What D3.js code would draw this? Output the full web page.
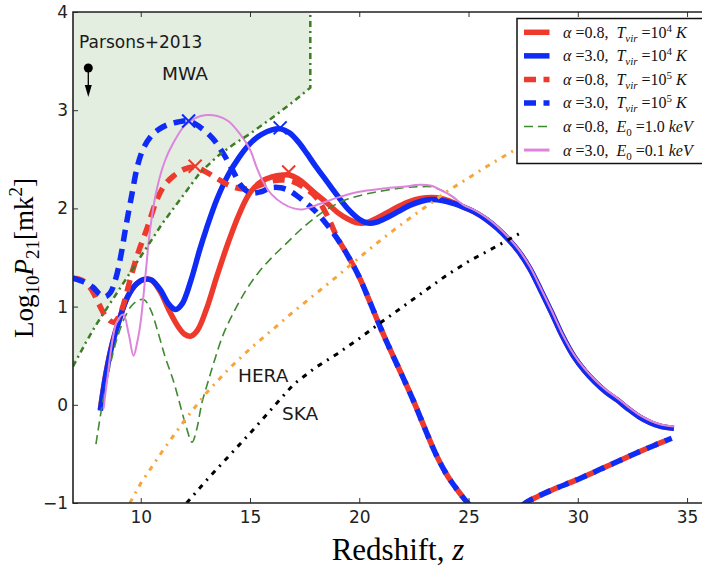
<!DOCTYPE html>
<html><head><meta charset="utf-8">
<script src="https://cdn.jsdelivr.net/npm/d3@7"></script>
<style>body{margin:0;background:#fff}svg{display:block}</style>
</head><body><svg id="c" width="702" height="568"></svg>
<script>
// ---------- DATA (z, log10 P21) ----------
const xTicks = [10, 15, 20, 25, 30, 35];
const yTicks = [-1, 0, 1, 2, 3, 4];

const redSolid = [[8.15,-0.05],[8.4,0.31],[8.7,0.63],[9.0,0.86],[9.4,1.1],[9.8,1.23],[10.2,1.28],[10.5,1.27],[10.9,1.15],[11.3,0.96],[11.7,0.8],[12.0,0.72],[12.3,0.7],[12.6,0.76],[13.0,0.97],[13.5,1.32],[14.0,1.65],[14.5,1.94],[15.0,2.16],[15.5,2.27],[16.0,2.32],[16.5,2.34],[16.8,2.34],[17.2,2.3],[17.6,2.23],[18.0,2.15],[18.5,2.06],[19.0,1.96],[19.5,1.89],[20.0,1.85],[20.4,1.86],[20.8,1.9],[21.3,1.96],[21.8,2.02],[22.3,2.07],[22.8,2.1],[23.3,2.11],[23.8,2.1],[24.3,2.06],[24.8,2.01],[25.3,1.96],[25.8,1.89],[26.3,1.8],[26.8,1.69],[27.3,1.56],[27.8,1.39],[28.3,1.17],[28.8,0.94],[29.3,0.7],[29.8,0.5],[30.3,0.35],[30.8,0.23],[31.3,0.13],[31.8,0.05],[32.3,-0.04],[32.8,-0.12],[33.3,-0.18],[33.8,-0.22],[34.4,-0.24]];

const blueSolid = [[8.15,-0.06],[8.4,0.3],[8.7,0.62],[9.0,0.85],[9.4,1.1],[9.8,1.23],[10.2,1.28],[10.5,1.27],[10.9,1.17],[11.3,1.02],[11.6,0.97],[11.9,1.03],[12.3,1.27],[12.7,1.58],[13.0,1.79],[13.5,2.1],[14.0,2.34],[14.5,2.52],[15.0,2.66],[15.5,2.75],[16.0,2.8],[16.4,2.81],[16.8,2.77],[17.2,2.68],[17.6,2.56],[18.0,2.43],[18.5,2.28],[19.0,2.13],[19.5,1.99],[20.0,1.89],[20.4,1.85],[20.8,1.86],[21.3,1.91],[21.8,1.97],[22.3,2.03],[22.8,2.07],[23.3,2.09],[23.8,2.08],[24.3,2.05],[24.8,2.01],[25.3,1.96],[25.8,1.89],[26.3,1.8],[26.8,1.69],[27.3,1.56],[27.8,1.39],[28.3,1.17],[28.8,0.94],[29.3,0.7],[29.8,0.5],[30.3,0.35],[30.8,0.23],[31.3,0.13],[31.8,0.05],[32.3,-0.04],[32.8,-0.12],[33.3,-0.18],[33.8,-0.22],[34.4,-0.24]];

const redDashed = [[6.9,1.29],[7.3,1.27],[7.7,1.19],[8.1,1.02],[8.4,0.9],[8.75,0.84],[9.0,0.9],[9.25,1.05],[9.52,1.28],[9.9,1.56],[10.28,1.79],[10.74,2.09],[11.1,2.24],[11.5,2.33],[12.0,2.4],[12.5,2.42],[13.0,2.37],[13.6,2.29],[14.1,2.23],[14.6,2.2],[15.0,2.2],[15.5,2.24],[16.0,2.28],[16.5,2.29],[17.0,2.27],[17.5,2.21],[18.0,2.12],[18.5,1.94],[19.0,1.7],[19.5,1.51],[20.0,1.3],[20.5,1.04],[21.0,0.77],[21.5,0.52],[22.0,0.28],[22.5,0.03],[23.0,-0.24],[23.5,-0.5],[24.0,-0.71],[24.5,-0.87],[25.0,-1.01],[25.6,-1.15],[26.3,-1.2],[27.0,-1.12],[27.6,-1.0],[28.2,-0.93],[29.0,-0.85],[30.0,-0.76],[31.0,-0.66],[32.0,-0.56],[33.0,-0.46],[34.3,-0.34]];

const blueDashed = [[6.9,1.29],[7.4,1.25],[7.8,1.2],[8.1,1.13],[8.35,1.1],[8.6,1.14],[8.85,1.28],[9.1,1.53],[9.3,1.79],[9.6,2.15],[9.85,2.43],[10.1,2.6],[10.45,2.73],[10.8,2.8],[11.2,2.85],[11.7,2.88],[12.2,2.89],[12.7,2.83],[13.3,2.71],[13.8,2.55],[14.25,2.37],[14.6,2.23],[15.0,2.16],[15.5,2.17],[15.95,2.21],[16.4,2.21],[16.8,2.18],[17.2,2.12],[17.6,2.05],[18.0,1.97],[18.5,1.84],[19.0,1.69],[19.5,1.51],[20.0,1.3],[20.5,1.04],[21.0,0.77],[21.5,0.52],[22.0,0.28],[22.5,0.03],[23.0,-0.24],[23.5,-0.5],[24.0,-0.71],[24.5,-0.87],[25.0,-1.01],[25.6,-1.15],[26.3,-1.2],[27.0,-1.12],[27.6,-1.0],[28.2,-0.93],[29.0,-0.85],[30.0,-0.76],[31.0,-0.66],[32.0,-0.56],[33.0,-0.46],[34.3,-0.34]];

const greenDashed = [[7.95,-0.4],[8.2,-0.05],[8.45,0.25],[8.7,0.5],[8.95,0.7],[9.25,0.88],[9.55,1.0],[9.85,1.06],[10.15,1.07],[10.45,0.97],[10.75,0.77],[11.1,0.5],[11.5,0.24],[11.8,0.0],[12.05,-0.2],[12.35,-0.38],[12.55,-0.26],[12.8,0.02],[13.1,0.25],[13.4,0.47],[13.8,0.73],[14.25,0.94],[14.8,1.16],[15.4,1.35],[16.0,1.5],[16.6,1.63],[17.3,1.78],[18.0,1.91],[18.6,2.0],[19.3,2.08],[20.2,2.14],[21.1,2.18],[22.0,2.21],[22.7,2.22],[23.3,2.22],[23.7,2.19],[24.2,2.13],[24.8,2.03],[25.3,1.98],[25.8,1.91],[26.3,1.82],[26.8,1.71],[27.3,1.58],[27.8,1.41],[28.3,1.19],[28.8,0.96],[29.3,0.72],[29.8,0.52],[30.3,0.37],[30.8,0.25],[31.3,0.15],[31.8,0.07],[32.3,-0.02],[32.8,-0.1],[33.3,-0.16],[33.8,-0.2],[34.4,-0.22]];

const pinkSolid = [[8.3,-0.04],[8.5,0.32],[8.7,0.65],[8.9,0.84],[9.2,0.92],[9.45,0.72],[9.67,0.5],[9.85,0.65],[10.0,0.85],[10.2,1.28],[10.43,1.79],[10.74,2.2],[11.1,2.48],[11.5,2.67],[12.0,2.84],[12.5,2.92],[13.0,2.95],[13.5,2.94],[14.0,2.89],[14.5,2.77],[15.0,2.6],[15.3,2.42],[15.6,2.27],[16.0,2.14],[16.5,2.05],[17.0,2.0],[17.4,1.99],[18.0,2.03],[19.0,2.11],[20.0,2.17],[21.0,2.2],[22.0,2.22],[22.8,2.24],[23.3,2.23],[23.7,2.19],[24.2,2.13],[24.8,2.03],[25.3,1.98],[25.8,1.91],[26.3,1.82],[26.8,1.71],[27.3,1.58],[27.8,1.41],[28.3,1.19],[28.8,0.96],[29.3,0.72],[29.8,0.52],[30.3,0.37],[30.8,0.25],[31.3,0.15],[31.8,0.07],[32.3,-0.02],[32.8,-0.1],[33.3,-0.16],[33.8,-0.2],[34.4,-0.22]];

const mwaLimit = [[6.9,0.39],[7.5,0.64],[8.0,0.83],[8.5,1.0],[9.0,1.17],[9.5,1.34],[10.0,1.51],[10.5,1.68],[11.0,1.85],[11.5,2.0],[12.0,2.15],[12.7,2.36],[13.5,2.53],[14.3,2.66],[15.0,2.76],[16.0,2.92],[17.0,3.09],[17.76,3.23],[17.76,4.0]];
const heraSens = [[9.5,-1.0],[10.0,-0.8],[11.0,-0.47],[12.0,-0.16],[13.0,0.12],[14.0,0.36],[15.0,0.57],[16.0,0.76],[17.0,0.95],[18.0,1.13],[19.0,1.31],[20.0,1.5],[21.0,1.68],[22.0,1.85],[23.0,2.01],[24.0,2.17],[25.0,2.31],[26.0,2.45],[27.0,2.58],[28.0,2.7],[29.0,2.81]];
const skaSens = [[12.1,-1.0],[13.0,-0.77],[14.0,-0.53],[15.0,-0.29],[16.0,-0.04],[17.0,0.21],[18.0,0.38],[19.0,0.52],[20.0,0.675],[21.0,0.84],[22.0,1.0],[23.0,1.16],[24.0,1.32],[25.0,1.46],[26.0,1.58],[27.3,1.74]];

const peakMarks = [[12.19,2.89,"blue"],[12.49,2.43,"red"],[16.38,2.82,"blue"],[16.77,2.37,"red"]];
const parsonsPoint = [7.6, 3.43];

const legendAlpha = ["0.8","3.0","0.8","3.0","0.8","3.0"];
const legendVar = ["T","T","T","T","E","E"];
const legendSub = ["vir","vir","vir","vir","0","0"];
const legendVal = ["10","10","10","10","1.0","0.1"];
const legendSup = ["4","4","5","5","",""];
const legendUnit = ["K","K","K","K","keV","keV"];

// ---------- STYLE ----------
const C = {red:"#ee3a2c", blue:"#0f2cf7", green:"#3f8a30", mwa:"#3d7d24", orange:"#f7a43a", pink:"#dd85dd", fill:"#e3eee1", ink:"#222"};
const W = 702, H = 568;
const x = d3.scaleLinear().domain([6.9, 36]).range([73, 708.9]);
const y = d3.scaleLinear().domain([-1, 4]).range([503, 12]);

const svg = d3.select("#c");
svg.append("rect").attr("width", W).attr("height", H).attr("fill", "#fff");
svg.append("defs").append("clipPath").attr("id", "clip")
  .append("rect").attr("x", x(6.9)).attr("y", y(4)).attr("width", x(36) - x(6.9)).attr("height", y(-1) - y(4));

const plot = svg.append("g").attr("clip-path", "url(#clip)");
const smooth = d3.line().x(d => x(d[0])).y(d => y(d[1])).curve(d3.curveCatmullRom.alpha(0.5));
const straight = d3.line().x(d => x(d[0])).y(d => y(d[1]));

// MWA excluded region
const fillPts = mwaLimit.concat([[6.9, 4.0]]);
plot.append("path").attr("d", straight(fillPts) + "Z").attr("fill", C.fill).attr("stroke", "none");

function curve(data, color, w, dash) {
  const p = plot.append("path").attr("d", smooth(data)).attr("fill", "none")
    .attr("stroke", color).attr("stroke-width", w).attr("stroke-linejoin", "round");
  if (dash) p.attr("stroke-dasharray", dash);
  return p;
}
curve(redSolid, C.red, 5.5);
curve(blueSolid, C.blue, 5.5);
curve(redDashed, C.red, 5.5, "12,7.5");
curve(blueDashed, C.blue, 5.5, "12,7.5");
curve(greenDashed, C.green, 1.6, "9,5");
curve(pinkSolid, C.pink, 2);

// peak markers
peakMarks.forEach(m => {
  const cx = x(m[0]), cy = y(m[1]), s = 6.5;
  plot.append("path").attr("d", `M${cx-s},${cy-s}L${cx+s},${cy+s}M${cx-s},${cy+s}L${cx+s},${cy-s}`)
    .attr("stroke", m[2] === "blue" ? C.blue : C.red).attr("stroke-width", 2);
});

// limits / sensitivities
plot.append("path").attr("d", straight(mwaLimit)).attr("fill", "none").attr("stroke", C.mwa)
  .attr("stroke-width", 2.5).attr("stroke-dasharray", "6,4,2,4");
plot.append("path").attr("d", straight(heraSens)).attr("fill", "none").attr("stroke", C.orange)
  .attr("stroke-width", 3).attr("stroke-dasharray", "5,6,2,6");
plot.append("path").attr("d", straight(skaSens)).attr("fill", "none").attr("stroke", "#000")
  .attr("stroke-width", 3).attr("stroke-dasharray", "5,6,2,6");

// Parsons point with arrow
const px = x(parsonsPoint[0]), py = y(parsonsPoint[1]);
svg.append("line").attr("x1", px).attr("y1", py).attr("x2", px).attr("y2", py + 22).attr("stroke", "#000").attr("stroke-width", 1.3);
svg.append("path").attr("d", `M${px-3.5},${py+17}L${px},${py+29}L${px+3.5},${py+17}Z`).attr("fill", "#000");
svg.append("circle").attr("cx", px).attr("cy", py).attr("r", 4.5).attr("fill", "#000");

const sans = "DejaVu Sans, sans-serif";
function label(t, lx, ly, fs) {
  svg.append("text").attr("x", lx).attr("y", ly).attr("font-family", sans).attr("font-size", fs).attr("fill", "#1a1a1a").text(t);
}
label("Parsons+2013", 79, 48, 17);
label("MWA", 162, 80, 18.5);
label("HERA", 238, 382, 18.5);
label("SKA", 282, 420, 18.5);

// axes
const xAxisB = d3.axisBottom(x).tickValues(xTicks).tickSize(-5).tickPadding(8).tickFormat(d3.format("d"));
const xAxisT = d3.axisTop(x).tickValues(xTicks).tickSize(-5).tickFormat("");
const yAxisL = d3.axisLeft(y).tickValues(yTicks).tickSize(-5).tickPadding(5).tickFormat(d => d < 0 ? "\u2212" + Math.abs(d) : String(d));
function styleAxis(g) {
  g.select(".domain").remove();
  g.selectAll("line").attr("stroke", "#333").attr("stroke-width", 1);
  g.selectAll("text").attr("font-family", sans).attr("font-size", 17).attr("fill", "#222");
}
svg.append("g").attr("transform", `translate(0,${y(-1)})`).call(xAxisB).call(styleAxis);
svg.append("g").attr("transform", `translate(0,${y(4)})`).call(xAxisT).call(styleAxis);
svg.append("g").attr("transform", `translate(${x(6.9)},0)`).call(yAxisL).call(styleAxis);

// spines
svg.append("path").attr("d", `M${x(36)},${y(4)}H${x(6.9)}V${y(-1)}H${x(36)}`).attr("fill", "none")
  .attr("stroke", C.ink).attr("stroke-width", 1.6);

// axis titles
const serif = "Liberation Serif, Times New Roman, serif";
const xt = svg.append("text").attr("x", 398).attr("y", 560).attr("text-anchor", "middle")
  .attr("font-family", serif).attr("font-size", 31).attr("fill", "#000");
xt.append("tspan").text("Redshift, ");
xt.append("tspan").attr("font-style", "italic").text("z");

const yt = svg.append("text").attr("transform", "translate(33,258) rotate(-90)").attr("text-anchor", "middle")
  .attr("font-family", serif).attr("font-size", 27).attr("fill", "#000");
yt.append("tspan").text("Log");
yt.append("tspan").attr("font-size", 19).attr("dy", 6).text("10");
yt.append("tspan").attr("font-style", "italic").attr("dy", -6).text("P");
yt.append("tspan").attr("font-size", 19).attr("dy", 6).text("21");
yt.append("tspan").attr("dy", -6).text("[mk");
yt.append("tspan").attr("font-size", 19).attr("dy", -11).text("2");
yt.append("tspan").attr("dy", 11).text("]");

// legend
const lg = svg.append("g");
lg.append("rect").attr("x", 517).attr("y", 18.5).attr("width", 200).attr("height", 145)
  .attr("fill", "#fff").attr("stroke", "#111").attr("stroke-width", 1.5);
const legColors = [C.red, C.blue, C.red, C.blue, C.green, C.pink];
const legWidths = [5.5, 5.5, 5.5, 5.5, 1.6, 3];
const legDash = [null, null, "12,7.5", "12,7.5", "9,5", null];
legendAlpha.forEach((a, i) => {
  const cy = 32.3 + i * 23.55;
  const l = lg.append("line").attr("x1", 524).attr("x2", 549.5).attr("y1", cy).attr("y2", cy)
    .attr("stroke", legColors[i]).attr("stroke-width", legWidths[i]);
  if (legDash[i]) l.attr("stroke-dasharray", legDash[i]);
  const t = lg.append("text").attr("x", 563).attr("y", cy + 5.5).attr("font-family", serif)
    .attr("font-size", 16).attr("fill", "#111").style("white-space", "pre");
  t.append("tspan").attr("font-style", "italic").text("\u03b1");
  t.append("tspan").text(" =" + a + ",  ");
  t.append("tspan").attr("font-style", "italic").text(legendVar[i]);
  const isT = legendVar[i] === "T";
  t.append("tspan").attr("font-size", 11).attr("dy", 4).attr("font-style", isT ? "italic" : "normal").text(legendSub[i]);
  t.append("tspan").attr("dy", -4).text(" =" + legendVal[i]);
  if (legendSup[i]) {
    t.append("tspan").attr("font-size", 11).attr("dy", -6).text(legendSup[i]);
    t.append("tspan").attr("dy", 6).text(" ");
  } else {
    t.append("tspan").text(" ");
  }
  t.append("tspan").attr("font-style", "italic").text(legendUnit[i]);
});
</script></body></html>
